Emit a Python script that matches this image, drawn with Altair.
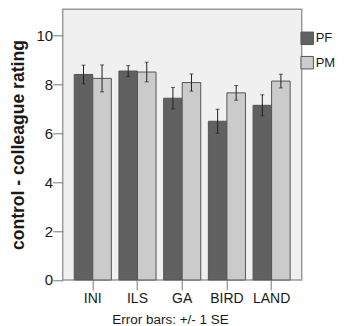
import altair as alt
import pandas as pd

categories = ["INI", "ILS", "GA", "BIRD", "LAND"]
groups = ["PF", "PM"]
pf_mean = [8.39, 8.53, 7.42, 6.48, 7.13]
pm_mean = [8.23, 8.49, 8.06, 7.64, 8.12]
pf_se = [0.38, 0.22, 0.44, 0.49, 0.43]
pm_se = [0.55, 0.40, 0.35, 0.30, 0.28]
y_ticks = [0, 2, 4, 6, 8, 10]

rows = []
for i, c in enumerate(categories):
    for g, m, s in (("PF", pf_mean, pf_se), ("PM", pm_mean, pm_se)):
        rows.append(dict(cat=c, grp=g, mean=m[i], lo=m[i] - s[i], hi=m[i] + s[i]))
df = pd.DataFrame(rows)

FONT = "Liberation Sans"

x_enc = alt.X(
    "cat:N",
    sort=categories,
    scale=alt.Scale(paddingInner=0.17, paddingOuter=0.258),
    axis=alt.Axis(
        domain=False, ticks=True, tickSize=10, tickColor="#777777", tickWidth=1,
        labelFont=FONT, labelFontSize=14, labelColor="#1a1a1a", labelPadding=2, labelAngle=0,
        title="Error bars: +/- 1 SE", titleFont=FONT, titleFontSize=13.5,
        titleFontWeight="normal", titleColor="#1a1a1a",
        titleX=107.3, titleY=44, titleBaseline="alphabetic", titleAlign="center",
    ),
)
xoff = alt.XOffset("grp:N", sort=groups, scale=alt.Scale(paddingInner=0, paddingOuter=0))
y_scale = alt.Scale(domain=[0, 11.05], nice=False, zero=True)

bars = alt.Chart(df).mark_bar(stroke="#555555", strokeWidth=1).encode(
    x=x_enc,
    xOffset=xoff,
    y=alt.Y(
        "mean:Q",
        scale=y_scale,
        axis=alt.Axis(
            values=y_ticks, domain=False, grid=False, tickSize=10, tickColor="#777777",
            labelFont=FONT, labelFontSize=15, labelColor="#1a1a1a", labelPadding=0,
            title="control - colleague rating", titleFont=FONT, titleFontSize=17.6,
            titleFontWeight="bold", titleColor="#1a1a1a",
            titleX=-38.7, titleY=135.3, titleBaseline="alphabetic", titleAlign="center",
        ),
    ),
    fill=alt.Fill(
        "grp:N",
        scale=alt.Scale(domain=groups, range=["#616161", "#cbcbcb"]),
        legend=alt.Legend(
            title=None, orient="none", legendX=237.5, legendY=22,
            symbolType="square", symbolSize=156, symbolStrokeColor="#555555",
            symbolStrokeWidth=1, labelFont=FONT, labelFontSize=13, labelColor="#1a1a1a",
            labelOffset=1.5, rowPadding=6.4, padding=0,
        ),
    ),
)

rules = alt.Chart(df).mark_rule(color="#222222", strokeWidth=1).encode(
    x=alt.X("cat:N", sort=categories), xOffset=xoff,
    y=alt.Y("lo:Q", scale=y_scale), y2="hi:Q",
)
cap_lo = alt.Chart(df).mark_tick(color="#222222", size=4, thickness=1).encode(
    x=alt.X("cat:N", sort=categories), xOffset=xoff, y=alt.Y("lo:Q", scale=y_scale),
)
cap_hi = alt.Chart(df).mark_tick(color="#222222", size=4, thickness=1).encode(
    x=alt.X("cat:N", sort=categories), xOffset=xoff, y=alt.Y("hi:Q", scale=y_scale),
)

chart = (
    alt.layer(bars, rules, cap_lo, cap_hi)
    .properties(
        width=239, height=270.7,
        autosize=alt.AutoSizeParams(type="none"),
        padding={"left": 54.7, "top": 1.3, "right": 34, "bottom": 48},
    )
    .configure_view(fill="#f0f0f0", stroke="#9a9a9a", strokeWidth=1.5)
)

chart.save("out.html", embed_options={"renderer": "svg", "actions": False})
